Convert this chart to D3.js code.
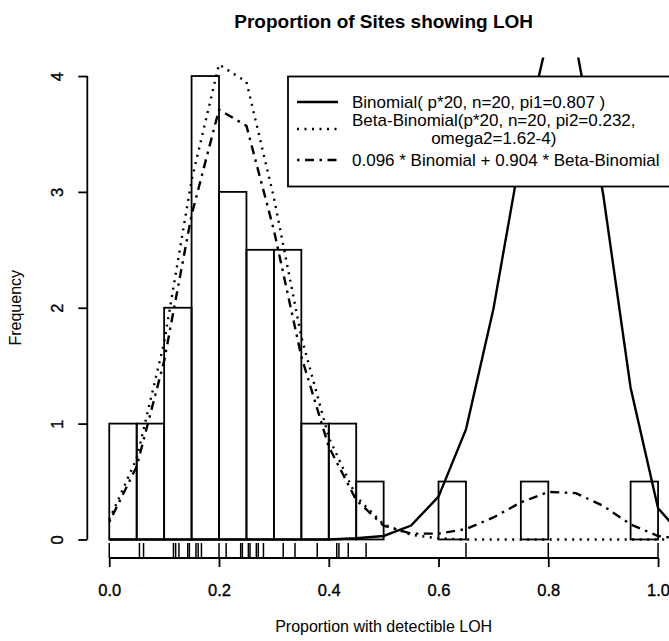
<!DOCTYPE html>
<html>
<head>
<meta charset="utf-8">
<script src="https://cdn.jsdelivr.net/npm/d3@7"></script>
<style>
  body { margin: 0; background: #fff; }
  text { font-family: "Liberation Sans", Arial, Helvetica, sans-serif; fill: #000; }
</style>
</head>
<body>
<svg id="chart" width="669" height="641"></svg>
<script>
// Histogram: lower bin edges (width 0.05) and bar heights
const binWidth = 0.05;
const binStarts = [0.00, 0.05, 0.10, 0.15, 0.20, 0.25, 0.30, 0.35, 0.40, 0.45,
                   0.50, 0.55, 0.60, 0.65, 0.70, 0.75, 0.80, 0.85, 0.90, 0.95];
const binHeights = [1, 1, 2, 4, 3, 2.5, 2.5, 1, 1, 0.5,
                    0, 0, 0.5, 0, 0, 0.5, 0, 0, 0, 0.5];

// Observed proportions shown as a rug under the histogram
const rugValues = [0.000, 0.055, 0.0625, 0.117, 0.121, 0.127, 0.143, 0.146, 0.158, 0.162,
                   0.168, 0.200, 0.213, 0.2395, 0.2425, 0.2535, 0.2565, 0.268, 0.2715, 0.281,
                   0.317, 0.3385, 0.379, 0.4145, 0.4185, 0.4355, 0.468, 0.650, 0.800, 1.000];

// Fitted expected frequencies at p = k/20 (k = 0..21)
const fitX = [0.00, 0.05, 0.10, 0.15, 0.20, 0.25, 0.30, 0.35, 0.40, 0.45, 0.50,
              0.55, 0.60, 0.65, 0.70, 0.75, 0.80, 0.85, 0.90, 0.95, 1.00, 1.05];
const binomialFit = [0, 0, 0, 0, 0, 0, 0, 0, 0, 0.01, 0.03,
                     0.12, 0.37, 0.95, 1.99, 3.33, 4.35, 4.28, 2.98, 1.31, 0.27, 0];
const betaBinomialFit = [0.17, 0.70, 1.70, 3.10, 4.10, 3.95, 2.95, 1.75, 0.88, 0.37, 0.13,
                         0.04, 0.01, 0, 0, 0, 0, 0, 0, 0, 0, 0];
const mixtureFit = [0.15, 0.63, 1.54, 2.80, 3.71, 3.57, 2.67, 1.58, 0.80, 0.34, 0.12,
                    0.05, 0.05, 0.09, 0.19, 0.32, 0.41, 0.40, 0.29, 0.13, 0.03, 0];

const xTicks = [0, 0.2, 0.4, 0.6, 0.8, 1.0];
const yTicks = [0, 1, 2, 3, 4];

const titleText = "Proportion of Sites showing LOH";
const xLabel = "Proportion with detectible LOH";
const yLabel = "Frequency";

const legendLabels = [
  ["Binomial( p*20, n=20, pi1=0.807 )"],
  ["Beta-Binomial(p*20, n=20, pi2=0.232,", "omega2=1.62-4)"],
  ["0.096 * Binomial + 0.904 * Beta-Binomial"]
];

// line styles for the three fitted curves
const solidDash = null;
const dottedDash = "2 5.5";
const dotDashDash = "2.5 5.5 9 5.5";

const svg = d3.select("#chart");

// plot region (data range extended by 4% on each side)
const x = d3.scaleLinear().domain([-0.04, 1.04]).range([87.3, 680]);
const y = d3.scaleLinear().domain([-0.16, 4.16]).range([558, 57.5]);

svg.append("defs").append("clipPath").attr("id", "plotClip")
  .append("rect")
  .attr("x", x(-0.04)).attr("y", y(4.16))
  .attr("width", x(1.04) - x(-0.04)).attr("height", y(-0.16) - y(4.16));

// Title and axis labels
svg.append("text")
  .attr("x", (x(-0.04) + x(1.04)) / 2).attr("y", 28)
  .attr("text-anchor", "middle")
  .style("font-size", "19px").style("font-weight", "bold")
  .text(titleText);

svg.append("text")
  .attr("x", (x(-0.04) + x(1.04)) / 2).attr("y", 632)
  .attr("text-anchor", "middle")
  .style("font-size", "16px")
  .text(xLabel);

svg.append("text")
  .attr("transform", `translate(21, ${(y(-0.16) + y(4.16)) / 2}) rotate(-90)`)
  .attr("text-anchor", "middle")
  .style("font-size", "16px")
  .text(yLabel);

// Histogram bars
const bins = binStarts.map((s, i) => ({ x0: s, x1: s + binWidth, h: binHeights[i] }));
svg.append("g").selectAll("rect").data(bins).join("rect")
  .attr("x", d => x(d.x0))
  .attr("y", d => y(d.h))
  .attr("width", d => x(d.x1) - x(d.x0))
  .attr("height", d => y(0) - y(d.h))
  .attr("fill", "none")
  .attr("stroke", "#000")
  .attr("stroke-width", 1.8);

// Rug
svg.append("g").selectAll("line").data(rugValues).join("line")
  .attr("x1", d => x(d)).attr("x2", d => x(d))
  .attr("y1", y(-0.16)).attr("y2", y(-0.16) - 15)
  .attr("stroke", "#000").attr("stroke-width", 1.5);

// Axes
const xAxis = d3.axisBottom(x).tickValues(xTicks).tickFormat(d3.format(".1f"))
  .tickSize(9).tickPadding(17);
const gx = svg.append("g").attr("transform", `translate(0, ${y(-0.16)})`).call(xAxis);
gx.select(".domain").remove();
gx.append("line").attr("x1", x(0)).attr("x2", x(1)).attr("stroke", "#000").attr("stroke-width", 1.8);
gx.selectAll(".tick line").attr("stroke-width", 1.8);
gx.selectAll(".tick text").style("font-size", "16.5px").style("font-family", null)
  .attr("stroke", "#000").attr("stroke-width", 0.35);

const yAxis = d3.axisLeft(y).tickValues(yTicks).tickFormat(d3.format("d")).tickSize(9);
const gy = svg.append("g").attr("transform", `translate(${x(-0.04)}, 0)`).call(yAxis);
gy.select(".domain").remove();
gy.append("line").attr("y1", y(0)).attr("y2", y(4)).attr("stroke", "#000").attr("stroke-width", 1.8);
gy.selectAll(".tick line").attr("stroke-width", 1.8);
gy.selectAll(".tick text")
  .attr("transform", "rotate(-90)")
  .attr("x", 0).attr("y", -24.5).attr("dy", null)
  .attr("text-anchor", "middle")
  .style("font-size", "16.5px").style("font-family", null)
  .attr("stroke", "#000").attr("stroke-width", 0.35);

// Fitted curves
const curves = [
  { values: binomialFit, dash: solidDash },
  { values: betaBinomialFit, dash: dottedDash },
  { values: mixtureFit, dash: dotDashDash }
];
const line = d3.line().x(d => x(d[0])).y(d => y(d[1]));
const gc = svg.append("g").attr("clip-path", "url(#plotClip)");
curves.forEach(c => {
  gc.append("path")
    .attr("d", line(fitX.map((p, i) => [p, c.values[i]])))
    .attr("fill", "none")
    .attr("stroke", "#000")
    .attr("stroke-width", 2.4)
    .attr("stroke-dasharray", c.dash);
});

// Legend
const lg = svg.append("g");
lg.append("rect")
  .attr("x", 288).attr("y", 76.5).attr("width", 420).attr("height", 110)
  .attr("fill", "#fff").attr("stroke", "#000").attr("stroke-width", 1.8);
const rowCenters = [102, 129, 160];
const legendFont = "17px";
legendLabels.forEach((lines, i) => {
  lg.append("line")
    .attr("x1", 297).attr("x2", 338)
    .attr("y1", rowCenters[i]).attr("y2", rowCenters[i])
    .attr("stroke", "#000").attr("stroke-width", 2.4)
    .attr("stroke-dasharray", curves[i].dash);
  if (lines.length === 1) {
    lg.append("text").attr("x", 352).attr("y", rowCenters[i] + 6)
      .style("font-size", legendFont).text(lines[0]);
  } else {
    const t1 = lg.append("text").attr("x", 352).attr("y", rowCenters[i] - 3)
      .style("font-size", legendFont).text(lines[0]);
    const w = t1.node().getComputedTextLength();
    lg.append("text").attr("x", 352 + w / 2).attr("y", rowCenters[i] + 15)
      .attr("text-anchor", "middle")
      .style("font-size", legendFont).text(lines[1]);
  }
});
</script>
</body>
</html>
